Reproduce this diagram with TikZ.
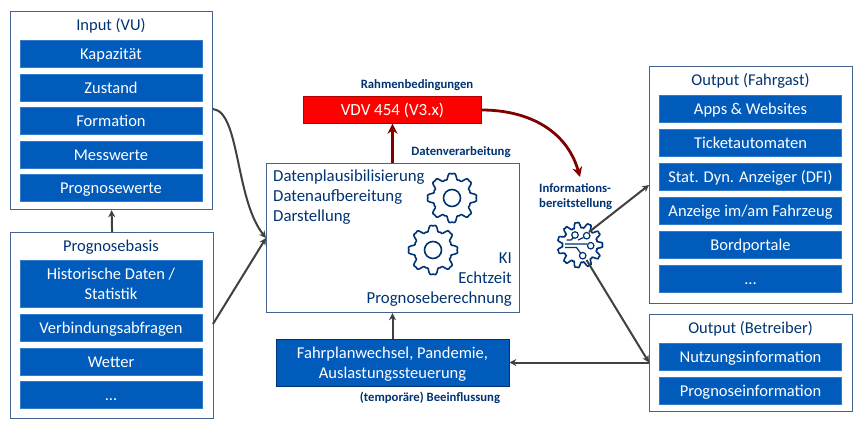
\documentclass[tikz,border=0pt]{standalone}
\usepackage{fontspec}
\setmainfont{Carlito}
\usetikzlibrary{positioning,arrows.meta,calc}
\definecolor{vublue}{RGB}{0,91,187}
\definecolor{vunavy}{RGB}{0,51,115}
\definecolor{vuframe}{RGB}{68,98,140}
\definecolor{vudark}{RGB}{64,64,64}
\definecolor{vured}{RGB}{128,0,0}
\begin{document}
\begin{tikzpicture}[
    x=1pt, y=-1pt,
    declare function={gearrad(\a,\n)=0.85+0.13*(cos(\n*\a)-0.25*cos(3*\n*\a));},
    % Styles
    groupbox/.style={
        draw=vuframe, line width=1.2pt, fill=white, anchor=north west,
        inner sep=0pt,
    },
    item/.style={
        fill=vublue, draw=vublue!80!white, line width=0.4pt, text=white,
        minimum width=182pt, minimum height=27pt, inner sep=0pt,
        font=\fontsize{16.5pt}{20pt}\selectfont, align=center,
        text height=13pt, text depth=2pt,
    },
    grouptitle/.style={font=\fontsize{16.5pt}{20pt}\selectfont, text=#1},
    grouptitle/.default={vunavy},
    boxtext/.style={font=\fontsize{16.8pt}{20pt}\selectfont, text=vunavy},
    lbl/.style={font=\fontsize{12.7pt}{15pt}\selectfont\bfseries, text=vunavy, align=left},
    arr/.style={-{Stealth[length=7pt,width=7pt]}, line width=2pt, vudark},
    redarr/.style={-{Stealth[length=10pt,width=10pt]}, line width=2.8pt, vured},
    gear/.style={draw=vunavy, line width=1.6pt, fill=white},
    trace/.style={draw=vunavy, line width=1.2pt},
]
\useasboundingbox (0,0) rectangle (861,428);
\fill[white] (0,0) rectangle (861,428);

% ================================================================
% LEFT: INPUT, PROGNOSEBASIS
% ================================================================
\node[groupbox, minimum width=202pt, minimum height=198pt] (inputbox) at (10,11) {};
\node[grouptitle] (inputtitle) at (111,26) {Input (VU)};
\node[item] (kapazitaet) at (111,54) {Kapazität};
\node[item] (zustand) at (111,88) {Zustand};
\node[item] (formation) at (111,121) {Formation};
\node[item] (messwerte) at (111,155) {Messwerte};
\node[item] (prognosewerte) at (111,188) {Prognosewerte};

\node[groupbox, minimum width=203pt, minimum height=186pt] (basisbox) at (10,232) {};
\node[grouptitle] (basistitle) at (111,247) {Prognosebasis};
\node[item, minimum height=47pt, text height=, text depth=] (historie) at (111,284) {Historische Daten /\\Statistik};
\node[item] (abfragen) at (111,328) {Verbindungsabfragen};
\node[item] (wetter) at (111,362) {Wetter};
\node[item] (restlinks) at (111,395) {...};

% ================================================================
% MIDDLE
% ================================================================
\node[lbl] (rahmenlbl) at (417,85) {Rahmenbedingungen};
\node[fill=red, draw=red!70!black, line width=0.4pt, text=white, minimum width=178pt,
    minimum height=27pt, inner sep=0pt, font=\fontsize{17pt}{20pt}\selectfont]
    (vdv) at (392.5,110) {VDV 454 (V3.x)};
\node[lbl] (verarbeitunglbl) at (461,152) {Datenverarbeitung};
\node[groupbox, minimum width=253pt, minimum height=149pt] (verarbeitung) at (266,163) {};
\node[boxtext, anchor=north west, align=left, inner sep=0pt] (schritte) at (273,170)
    {Datenplausibilisierung\\Datenaufbereitung\\Darstellung};
\node[boxtext, anchor=south east, align=right, inner sep=0pt] (methoden) at (512,307)
    {KI\\Echtzeit\\Prognoseberechnung};
\node[fill=vublue, draw=vunavy, line width=0.6pt, text=white, minimum width=233pt, minimum height=47pt,
    inner sep=0pt, font=\fontsize{16.5pt}{20pt}\selectfont, align=center]
    (einfluss) at (392.5,362.5) {\rule{0pt}{15pt}Fahrplanwechsel, Pandemie,\\Auslastungssteuerung};
\node[lbl] (einflusslbl) at (430,398) {(temporäre) Beeinflussung};

% gears
\foreach \gearname/\gx/\gy/\gr/\gn in {gearone/452/198/25.5/8, geartwo/433/250/25.5/8, gearthree/580/245/23.5/11} {
    \draw[gear] plot[smooth cycle, samples=144, domain=0:357.5]
        ({\gx+\gr*gearrad(\x,\gn)*cos(\x)},{\gy+\gr*gearrad(\x,\gn)*sin(\x)});
    \coordinate (\gearname) at (\gx,\gy);
}
\draw[gear] (gearone) circle (8.5pt);
\draw[gear] (geartwo) circle (8.5pt);
\node[lbl, anchor=west, inner sep=0pt] (bereitlbl) at (539,197) {Informations-\\bereitstellung};

% circuit in the small gear
\draw[trace] (565,244) -- (587,244) (565,247.5) -- (576.5,247.5) -- (580.5,253);
\draw[trace] (566.5,240) -- (571,240) -- (573.5,237.5) (578,240) -- (583.5,237.5);
\foreach \tracename/\tx/\ty in {traceone/575/235, tracetwo/586.7/235.7, tracethree/590.7/245.7, tracefour/582.7/255.7} {
    \node[trace, circle, inner sep=0pt, minimum size=6.5pt] (\tracename) at (\tx,\ty) {};
}

% ================================================================
% RIGHT: OUTPUT
% ================================================================
\node[groupbox, minimum width=203pt, minimum height=237pt] (fahrgastbox) at (649,66) {};
\node[grouptitle] (fahrgasttitle) at (750.5,80.5) {Output (Fahrgast)};
\node[item] (apps) at (750.5,109) {Apps \& Websites};
\node[item] (automaten) at (750.5,143) {Ticketautomaten};
\node[item] (dfi) at (750.5,177) {Stat. Dyn. Anzeiger (DFI)};
\node[item] (fahrzeug) at (750.5,211) {Anzeige im/am Fahrzeug};
\node[item] (bordportale) at (750.5,245) {Bordportale};
\node[item] (restrechts) at (750.5,279) {...};

\node[groupbox, minimum width=203pt, minimum height=97pt] (betreiberbox) at (649,314) {};
\node[grouptitle] (betreibertitle) at (750.5,328.5) {Output (Betreiber)};
\node[item] (nutzung) at (750.5,357) {Nutzungsinformation};
\node[item] (prognoseinfo) at (750.5,391) {Prognoseinformation};

% ================================================================
% ARROWS
% ================================================================
\coordinate (mitteein) at (266,238);
\coordinate (basisaus) at (213,324);
\coordinate (inputaus) at (213,109);
\coordinate (bereitein) at (580,177);
\coordinate (bereitoben) at (589,232);
\coordinate (bereitunten) at (586.5,260);
\coordinate (fahrgastein) at (649,185);
\coordinate (betreiberein) at (649,362.5);

% Prognosebasis -> Input
\draw[arr] (basisbox.north) -- (inputbox.south);

% Input -> Verarbeitung
\draw[arr] (inputaus) .. controls (240,112) and (235,199) .. (mitteein);

% Prognosebasis -> Verarbeitung
\draw[arr] (basisaus) -- (mitteein);

% Beeinflussung -> Verarbeitung
\draw[arr] (einfluss.north) -- (verarbeitung.south-|einfluss.north);

% Verarbeitung -> VDV
\draw[redarr] (verarbeitung.north-|vdv.south) -- (vdv.south);

% VDV -> Bereitstellung
\draw[redarr] (vdv.east) .. controls (525,110) and (566,128) .. (bereitein);

% Bereitstellung -> Output
\draw[arr] (bereitoben) -- (fahrgastein);
\draw[arr] (bereitunten) -- (betreiberein);
\draw[arr] (betreiberein) -- (einfluss.east);

\end{tikzpicture}
\end{document}
